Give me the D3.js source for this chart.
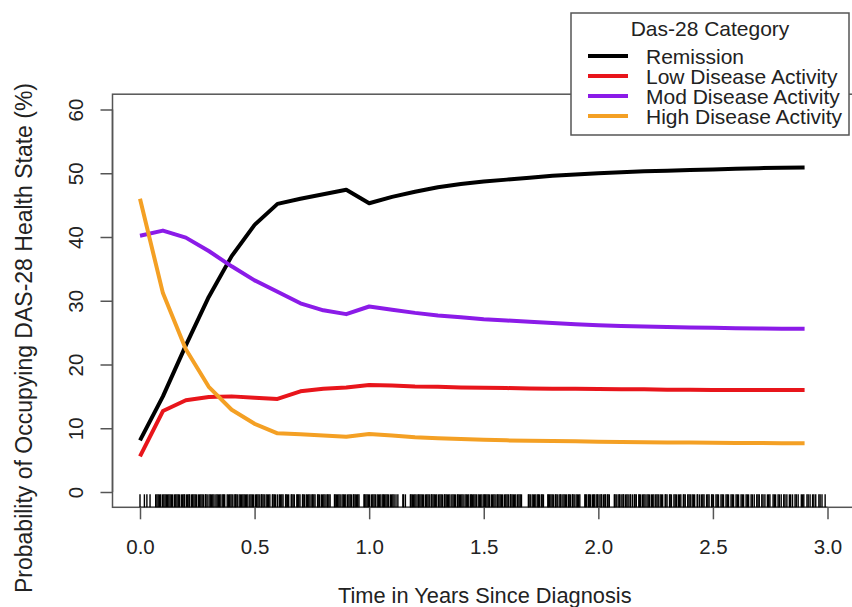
<!DOCTYPE html>
<html>
<head>
<meta charset="utf-8">
<script src="https://cdn.jsdelivr.net/npm/d3@7"></script>
<style>
	body { margin: 0; background: #fff; }
	svg text { font-family: "Liberation Sans", Arial, sans-serif; fill: #222; }
</style>
</head>
<body>
<svg id="chart" width="852" height="607"></svg>
<script>
// time points (years since diagnosis)
const times = [0, 0.1, 0.2, 0.3, 0.4, 0.5, 0.6, 0.7, 0.8, 0.9, 1.0, 1.1, 1.2, 1.3, 1.4,
	1.5, 1.6, 1.7, 1.8, 1.9, 2.0, 2.1, 2.2, 2.3, 2.4, 2.5, 2.6, 2.7, 2.8, 2.9];

// probability of occupying each state (%)
const remission = [8.1, 15.0, 23.0, 30.6, 37.0, 41.9, 45.2, 46.0, 46.7, 47.4, 45.3, 46.3, 47.1, 47.8, 48.3,
	48.7, 49.0, 49.3, 49.6, 49.8, 50.0, 50.15, 50.3, 50.4, 50.5, 50.6, 50.7, 50.8, 50.85, 50.9];
const lowActivity = [5.6, 12.7, 14.4, 14.9, 15.0, 14.8, 14.6, 15.8, 16.2, 16.4, 16.8, 16.7, 16.55, 16.5, 16.4,
	16.35, 16.3, 16.25, 16.2, 16.2, 16.15, 16.1, 16.1, 16.05, 16.05, 16.0, 16.0, 16.0, 16.0, 16.0];
const modActivity = [40.2, 41.0, 39.9, 37.8, 35.4, 33.2, 31.4, 29.6, 28.5, 27.9, 29.1, 28.6, 28.1, 27.7, 27.4,
	27.1, 26.9, 26.7, 26.5, 26.3, 26.15, 26.05, 25.95, 25.9, 25.8, 25.75, 25.7, 25.65, 25.62, 25.6];
const highActivity = [46.0, 31.2, 22.4, 16.5, 12.9, 10.7, 9.2, 9.05, 8.85, 8.65, 9.1, 8.85, 8.6, 8.45, 8.3,
	8.2, 8.1, 8.05, 8.0, 7.95, 7.9, 7.85, 7.8, 7.78, 7.75, 7.72, 7.7, 7.68, 7.66, 7.65];

const seriesNames = ['Remission', 'Low Disease Activity', 'Mod Disease Activity', 'High Disease Activity'];
const seriesColors = ['#000000', '#e8151b', '#8b1be8', '#f4a024'];

// observation times for the rug (days)
const rugDays = [0, 7, 11, 16, 25, 27, 29, 31, 33, 36, 38, 40, 42, 44, 46, 48, 50, 52, 55, 57, 59, 61, 63, 66,
	68, 70, 71, 74, 76, 78, 79, 82, 84, 86, 88, 90, 93, 95, 97, 99, 101, 104, 105, 107, 110, 112, 114, 116,
	118, 121, 123, 125, 127, 129, 132, 133, 135, 139, 141, 143, 145, 147, 150, 152, 153, 155, 158, 160, 162,
	164, 166, 168, 170, 172, 175, 177, 179, 181, 184, 186, 188, 190, 193, 194, 196, 198, 201, 203, 205, 207,
	211, 212, 214, 216, 219, 222, 224, 226, 228, 232, 233, 235, 237, 241, 242, 244, 246, 250, 251, 253, 255,
	259, 260, 262, 265, 267, 269, 271, 274, 275, 277, 279, 283, 284, 286, 289, 291, 293, 295, 298, 299, 301,
	303, 310, 311, 313, 315, 317, 319, 322, 324, 326, 328, 331, 333, 335, 337, 340, 341, 343, 345, 347, 349,
	357, 358, 360, 362, 364, 366, 369, 371, 373, 375, 378, 380, 382, 384, 387, 388, 390, 392, 394, 396, 399,
	401, 403, 405, 408, 411, 419, 420, 423, 431, 432, 434, 436, 438, 440, 443, 444, 446, 448, 450, 452, 455,
	457, 459, 461, 464, 465, 467, 469, 471, 473, 476, 478, 480, 482, 485, 486, 488, 490, 492, 494, 497, 499,
	501, 503, 506, 507, 509, 511, 513, 515, 518, 520, 522, 524, 527, 528, 530, 532, 534, 536, 539, 541, 543,
	545, 548, 549, 551, 553, 555, 557, 560, 562, 564, 566, 569, 570, 572, 574, 576, 578, 581, 583, 585, 587,
	590, 591, 593, 595, 597, 599, 602, 604, 606, 608, 619, 620, 622, 625, 627, 629, 631, 634, 635, 637, 640,
	641, 643, 650, 651, 653, 655, 657, 659, 662, 663, 665, 668, 670, 671, 674, 676, 678, 680, 683, 684, 686,
	689, 690, 692, 695, 697, 699, 701, 709, 710, 712, 715, 716, 718, 721, 723, 724, 727, 729, 730, 733, 735,
	736, 739, 741, 742, 745, 746, 748, 756, 757, 759, 762, 764, 765, 768, 770, 771, 774, 776, 778, 781, 782,
	785, 788, 789, 791, 795, 796, 798, 801, 803, 805, 808, 810, 812, 815, 817, 819, 822, 824, 826, 829, 831,
	833, 837, 838, 840, 844, 845, 847, 851, 853, 855, 858, 860, 862, 866, 867, 869, 873, 875, 877, 880, 882,
	884, 888, 889, 892, 895, 897, 899, 903, 905, 907, 911, 912, 914, 918, 920, 922, 926, 928, 930, 934, 936,
	938, 942, 944, 946, 950, 952, 954, 958, 960, 962, 966, 968, 970, 974, 976, 979, 983, 985, 987, 991, 993,
	996, 1000, 1002, 1004, 1009, 1011, 1013, 1017, 1019, 1022, 1026, 1028, 1031, 1035, 1037, 1040, 1044, 1046,
	1049, 1054, 1056, 1058, 1063, 1065, 1068, 1072, 1074, 1077, 1082, 1084, 1087, 1092];

const xTicks = [0, 0.5, 1.0, 1.5, 2.0, 2.5, 3.0];
const yTicks = [0, 10, 20, 30, 40, 50, 60];

const svg = d3.select('#chart');

// R-style plot region: data range padded by 4%
const x = d3.scaleLinear().domain([-0.12, 3.12]).range([112.5, 855]);
const y = d3.scaleLinear().domain([-2.4, 62.4]).range([507.3, 94.2]);

const boxColor = '#555';

// plot box
svg.append('rect')
	.attr('x', x(-0.12))
	.attr('y', y(62.4))
	.attr('width', x(3.12) - x(-0.12))
	.attr('height', y(-2.4) - y(62.4))
	.attr('fill', 'none')
	.attr('stroke', boxColor)
	.attr('stroke-width', 1.5);

// x axis
const gX = svg.append('g')
	.attr('class', 'x_axis')
	.attr('transform', 'translate(0,' + y(-2.4) + ')')
	.call(d3.axisBottom(x).tickValues(xTicks).tickFormat(d3.format('.1f')).tickSize(12).tickSizeOuter(0).tickPadding(20));
gX.select('.domain').remove();
gX.append('line')
	.attr('x1', x(0)).attr('x2', x(3))
	.attr('stroke', boxColor).attr('stroke-width', 1.5);
gX.selectAll('.tick line').attr('stroke', boxColor).attr('stroke-width', 1.5);
gX.selectAll('.tick text')
	.attr('font-size', 20.5)
	.attr('fill', '#222')
	.attr('font-family', '"Liberation Sans", Arial, sans-serif');

// y axis, labels turned like R's default las = 0
const gY = svg.append('g')
	.attr('class', 'y_axis')
	.attr('transform', 'translate(' + x(-0.12) + ',0)')
	.call(d3.axisLeft(y).tickValues(yTicks).tickSize(12).tickSizeOuter(0));
gY.select('.domain').remove();
gY.append('line')
	.attr('y1', y(0)).attr('y2', y(60))
	.attr('stroke', boxColor).attr('stroke-width', 1.5);
gY.selectAll('.tick line').attr('stroke', boxColor).attr('stroke-width', 1.5);
gY.selectAll('.tick text')
	.attr('x', null).attr('dy', null)
	.attr('font-size', 20.5)
	.attr('fill', '#222')
	.attr('font-family', '"Liberation Sans", Arial, sans-serif')
	.attr('text-anchor', 'middle')
	.attr('transform', 'translate(-30,0) rotate(-90)');

// rug of observation times
svg.append('g')
	.attr('class', 'g_rug')
	.selectAll('line')
	.data(rugDays).enter()
	.append('line')
	.attr('x1', d => x(d / 365.25))
	.attr('x2', d => x(d / 365.25))
	.attr('y1', y(-2.4))
	.attr('y2', y(-2.4) - 13)
	.attr('stroke', '#000')
	.attr('stroke-width', 1.4);

// state probability curves
const series = [remission, lowActivity, modActivity, highActivity];
const line = d3.line()
	.x((d, i) => x(times[i]))
	.y(d => y(d));

svg.append('g')
	.attr('class', 'g_lines')
	.selectAll('path')
	.data(series).enter()
	.append('path')
	.attr('d', line)
	.attr('fill', 'none')
	.attr('stroke', (d, i) => seriesColors[i])
	.attr('stroke-width', 4)
	.attr('stroke-linejoin', 'round');

// axis titles
svg.append('text')
	.attr('x', (x(-0.12) + x(3.12)) / 2 + 1)
	.attr('y', 603)
	.attr('text-anchor', 'middle')
	.attr('font-size', 21.8)
	.text('Time in Years Since Diagnosis');

svg.append('text')
	.attr('transform', 'translate(32,338) rotate(-90)')
	.attr('text-anchor', 'middle')
	.attr('font-size', 23)
	.text('Probability of Occupying DAS-28 Health State (%)');

// legend
const lg = svg.append('g').attr('class', 'g_legend');
lg.append('rect')
	.attr('x', 571).attr('y', 13)
	.attr('width', 278).attr('height', 122)
	.attr('fill', '#fff')
	.attr('stroke', boxColor)
	.attr('stroke-width', 1.5);
lg.append('text')
	.attr('x', 710).attr('y', 36)
	.attr('text-anchor', 'middle')
	.attr('font-size', 21)
	.text('Das-28 Category');

const items = lg.selectAll('.lg_item')
	.data(seriesNames).enter()
	.append('g')
	.attr('class', 'lg_item')
	.attr('transform', (d, i) => 'translate(0,' + (56 + i * 20) + ')');
items.append('line')
	.attr('x1', 588).attr('x2', 628)
	.attr('stroke', (d, i) => seriesColors[i])
	.attr('stroke-width', 4);
items.append('text')
	.attr('x', 646).attr('y', 7.5)
	.attr('font-size', 21)
	.text(d => d);
</script>
</body>
</html>
